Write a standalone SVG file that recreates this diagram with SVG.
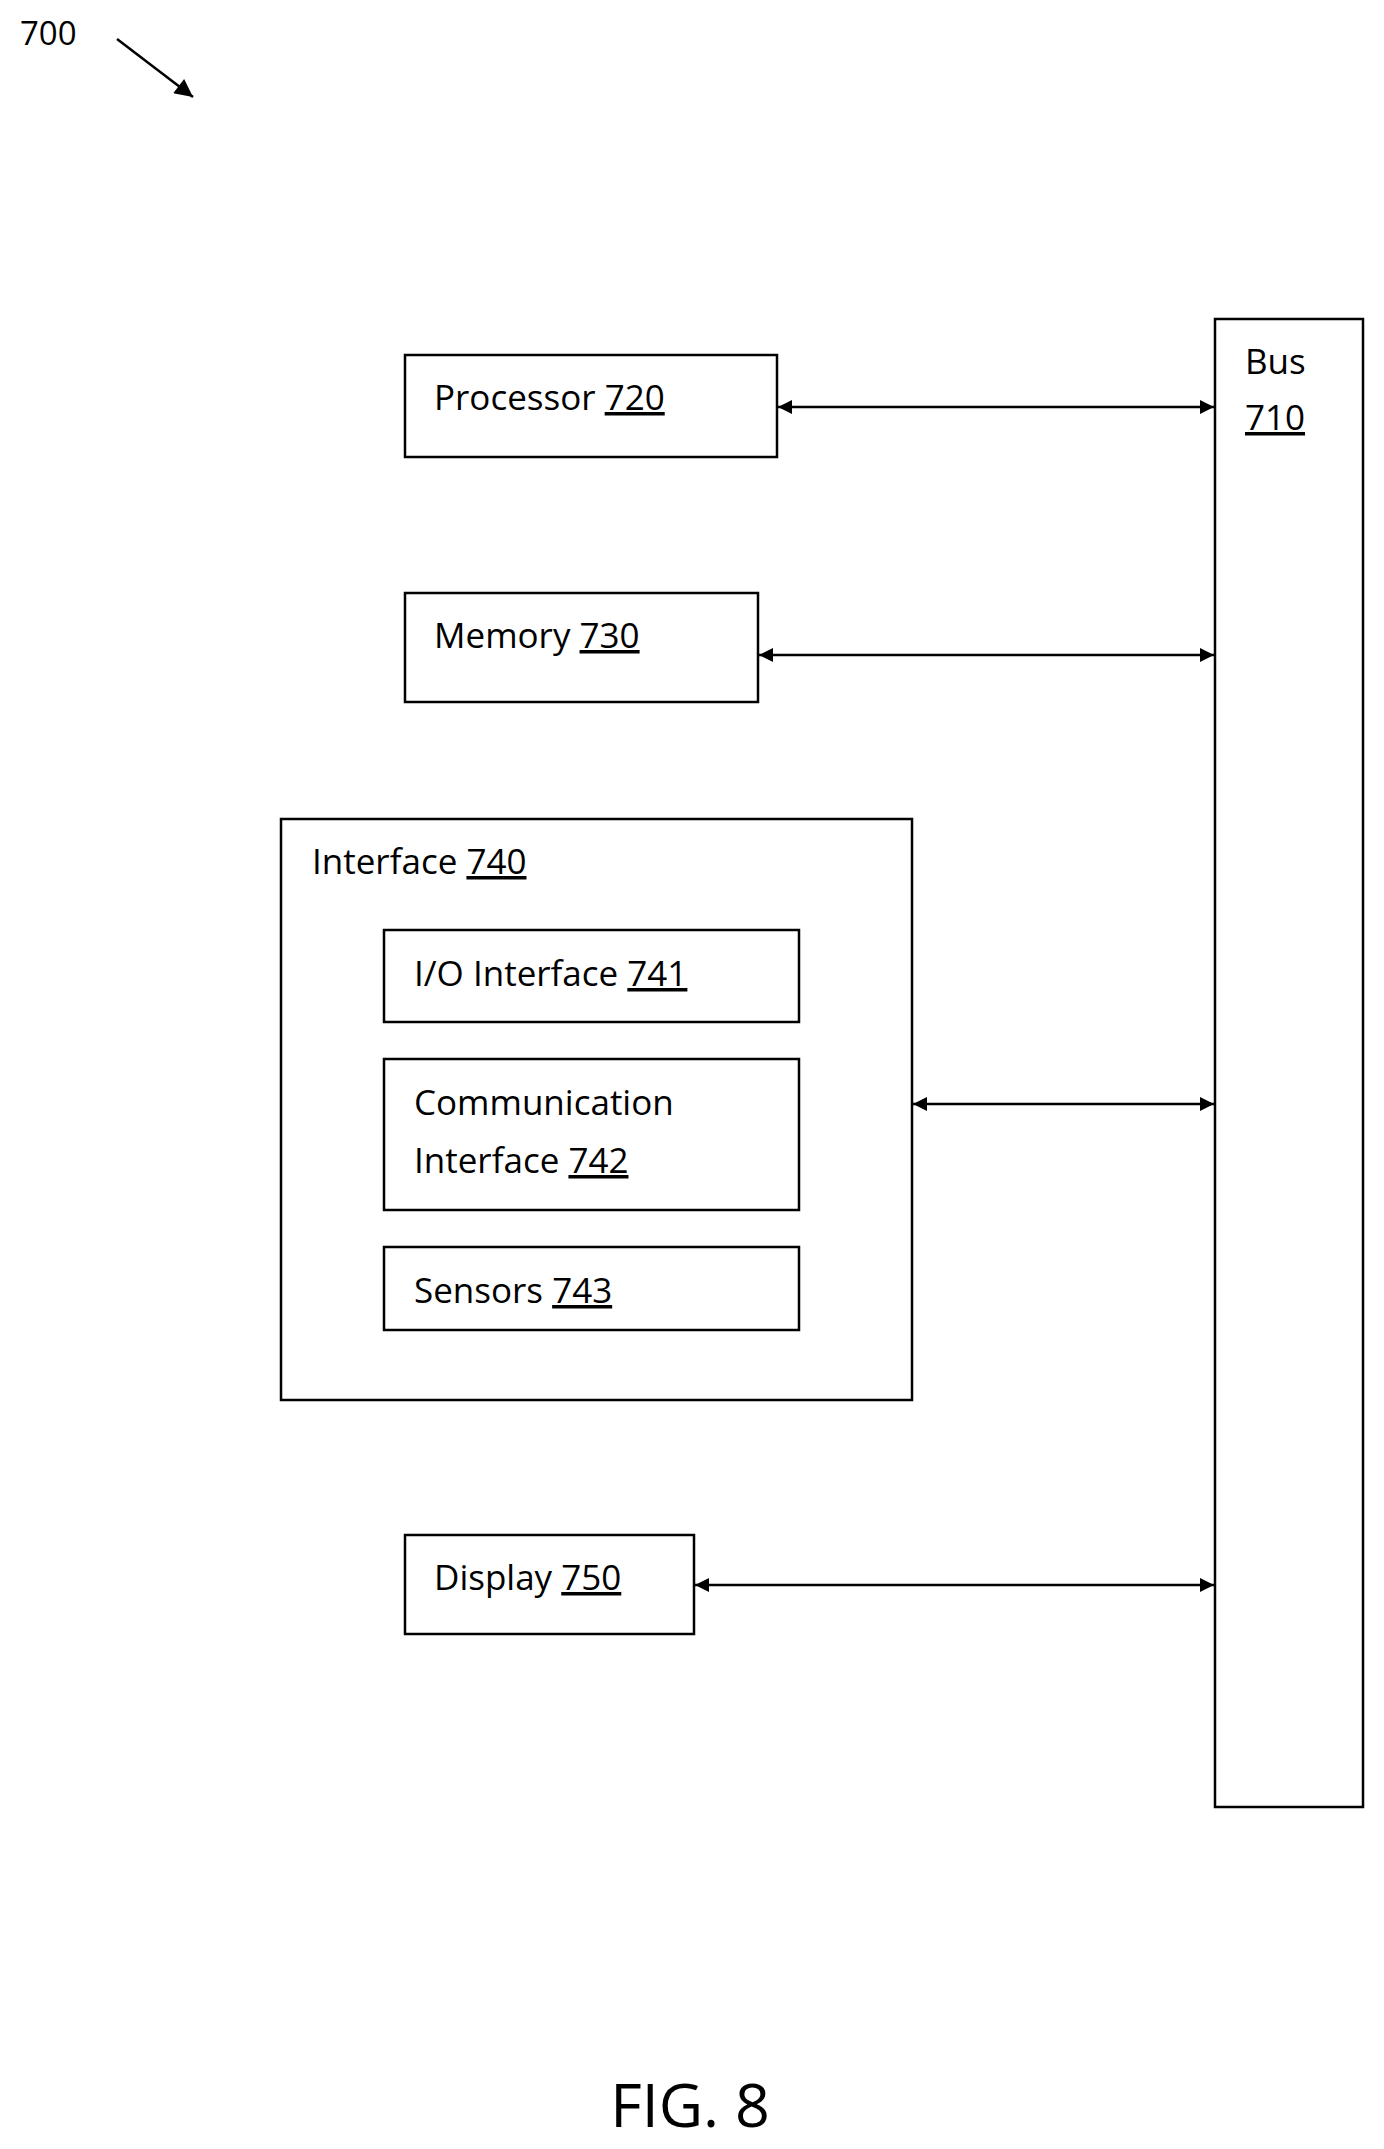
<svg xmlns="http://www.w3.org/2000/svg" width="1384" height="2149" viewBox="0 0 1384 2149">
<style>
.b{fill:#fff;stroke:#000;stroke-width:2.5}
text{font-family:"Open Sans","Liberation Sans",sans-serif;font-size:35px;fill:#000}
.u{text-decoration:underline}
.c{stroke:#000;stroke-width:2.5;fill:none;marker-start:url(#a);marker-end:url(#a)}
</style>
<defs><marker id="a" viewBox="0 0 10 10" refX="10" refY="5" markerWidth="16" markerHeight="14" orient="auto-start-reverse" markerUnits="userSpaceOnUse"><path d="M0,0L10,5L0,10z" fill="#000"/></marker>
<marker id="e" viewBox="0 0 10 10" refX="10" refY="5" markerWidth="20" markerHeight="18" orient="auto" markerUnits="userSpaceOnUse"><path d="M0,0L10,5L0,10z" fill="#000"/></marker></defs>
<text x="20" y="45" style="font-size:33px">700</text>
<line x1="117" y1="39" x2="193" y2="97" stroke="#000" stroke-width="2.5" marker-end="url(#e)"/>
<g id="bus"><rect class="b" x="1215" y="319" width="148" height="1488"/><text x="1245" y="374">Bus</text><text x="1245" y="430" class="u">710</text></g>
<g id="processor"><rect class="b" x="405" y="355" width="372" height="102"/><text x="434" y="410">Processor <tspan class="u">720</tspan></text></g>
<g id="memory"><rect class="b" x="405" y="593" width="353" height="109"/><text x="434" y="648">Memory <tspan class="u">730</tspan></text></g>
<g id="interface"><rect class="b" x="281" y="819" width="631" height="581"/><text x="312" y="874">Interface <tspan class="u">740</tspan></text></g>
<g id="io"><rect class="b" x="384" y="930" width="415" height="92"/><text x="414" y="986">I/O Interface <tspan class="u">741</tspan></text></g>
<g id="comm"><rect class="b" x="384" y="1059" width="415" height="151"/><text x="414" y="1115">Communication</text><text x="414" y="1173">Interface <tspan class="u">742</tspan></text></g>
<g id="sensors"><rect class="b" x="384" y="1247" width="415" height="83"/><text x="414" y="1303">Sensors <tspan class="u">743</tspan></text></g>
<g id="display"><rect class="b" x="405" y="1535" width="289" height="99"/><text x="434" y="1590">Display <tspan class="u">750</tspan></text></g>
<g id="connectors">
<line class="c" x1="778" y1="407" x2="1214" y2="407"/>
<line class="c" x1="759" y1="655" x2="1214" y2="655"/>
<line class="c" x1="913" y1="1104" x2="1214" y2="1104"/>
<line class="c" x1="695" y1="1585" x2="1214" y2="1585"/>
</g>
<text x="690" y="2127" text-anchor="middle" style="font-size:61px">FIG. 8</text>
</svg>
